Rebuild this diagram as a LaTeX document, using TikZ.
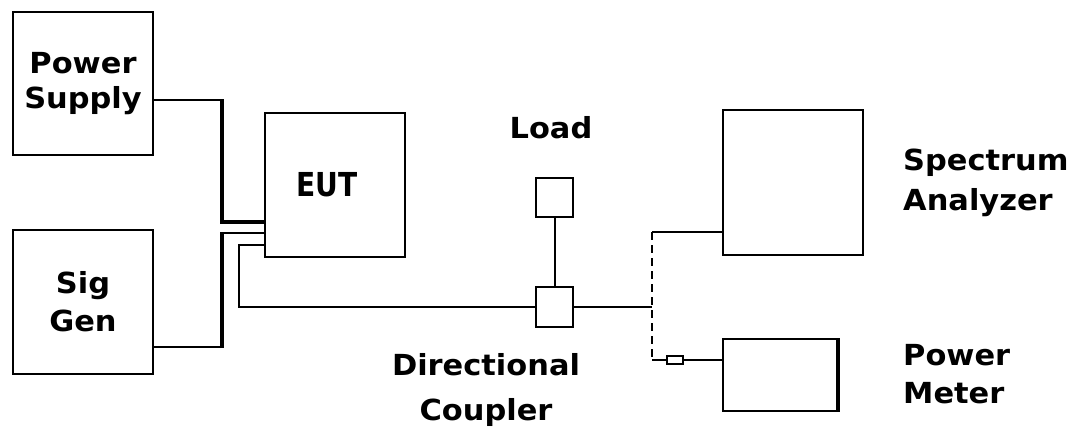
\documentclass[tikz,border=0pt]{standalone}
\usepackage{fontspec}
\setmainfont{DejaVu Sans}[FakeStretch=1.05]
\newfontfamily\eutfont{DejaVu Sans}[FakeStretch=0.85]
\begin{document}
\begin{tikzpicture}[x=1pt,y=-1pt,
  box/.style={draw,line width=2pt,inner sep=0pt,align=center,
    font=\bfseries\fontsize{29}{38}\selectfont},
  wire/.style={line width=2pt},
  thickwire/.style={line width=4pt},
  dashwire/.style={line width=2pt,dash pattern=on 8pt off 5pt},
  lbl/.style={font=\bfseries\fontsize{29}{40}\selectfont,align=left,inner sep=0pt}]
\useasboundingbox (0,0) rectangle (1073,429);
% boxes
\node[box,minimum width=140pt,minimum height=143pt,font=\bfseries\fontsize{29}{35}\selectfont] (ps) at (83,83.5) {Power\\Supply};
\node[box,minimum width=140pt,minimum height=144pt] (sg) at (83,302) {Sig\\Gen};
\node[box,minimum width=140pt,minimum height=144pt,font=\eutfont\bfseries\fontsize{33}{38}\selectfont] (eut) at (335,185) {\hspace{-16pt}EUT};
\node[box,minimum width=37pt,minimum height=39pt] (load) at (554.5,197.5) {};
\node[box,minimum width=37pt,minimum height=40pt] (dc) at (554.5,307) {};
\node[box,minimum width=140pt,minimum height=145pt] (sa) at (793,182.5) {};
\node[box,minimum width=115pt,minimum height=72pt] (pm) at (780.5,375) {};
\node[box,minimum width=16pt,minimum height=8pt] (att) at (675,360) {};
\draw[line width=4pt] ([xshift=-1pt]pm.north east) -- ([xshift=-1pt]pm.south east);
% labels
\node[lbl,anchor=base] (loadl) at (551,138) {Load};
\node[lbl,anchor=base,align=center,font=\bfseries\fontsize{29}{45}\selectfont] (dcl) at (486,420) {Directional\\Coupler};
\node[lbl,anchor=base west] (sal) at (903,210) {Spectrum\\Analyzer};
\node[lbl,anchor=base west,font=\bfseries\fontsize{29}{38}\selectfont] (pml) at (903,403) {Power\\Meter};
% wires
\coordinate (a1) at (222,100);
\coordinate (a2) at (222,347);
\coordinate (b1) at (222,233);
\coordinate (c1) at (239,245);
\coordinate (jn) at (652,307);
\coordinate (jt) at (652,232);
\coordinate (jb) at (652,360);
\draw[wire] ([yshift=-16.5pt]ps.east) -- (a1);
\draw[thickwire,line join=miter] ([yshift=1pt]a1) |- ([yshift=-37pt]eut.west);
\draw[wire] ([yshift=-45pt]sg.east) -- (a2);
\draw[thickwire] ([yshift=-1pt]a2) -- (b1);
\draw[wire] ([xshift=-2pt]b1) -- ([yshift=-48pt]eut.west);
\draw[wire] ([yshift=-60pt]eut.west) -| (c1) |- (dc.west);
\draw[wire] (load.south) -- (dc.north);
\draw[wire] (dc.east) -- (jn);
\draw[dashwire] (jt) -- (jb);
\draw[wire] (jt) -- (sa.west |- jt);
\draw[wire] (jb) -- (att.west);
\draw[wire] (att.east) -- (pm.west |- att.east);
\end{tikzpicture}
\end{document}
